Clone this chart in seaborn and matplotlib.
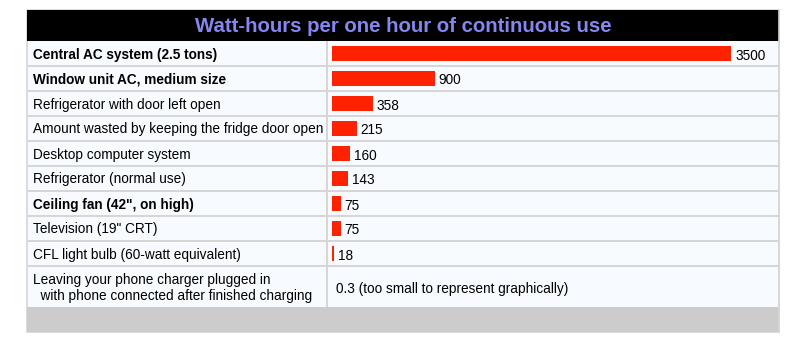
import matplotlib
matplotlib.use("Agg")
import matplotlib.pyplot as plt
import matplotlib.transforms as mtransforms
from matplotlib.patches import Rectangle
import seaborn as sns
import pandas as pd

# Data
title = "Watt-hours per one hour of continuous use"
appliances = [
    "Central AC system (2.5 tons)",
    "Window unit AC, medium size",
    "Refrigerator with door left open",
    "Amount wasted by keeping the fridge door open",
    "Desktop computer system",
    "Refrigerator (normal use)",
    "Ceiling fan (42\", on high)",
    "Television (19\" CRT)",
    "CFL light bulb (60-watt equivalent)",
]
watt_hours = [3500, 900, 358, 215, 160, 143, 75, 75, 18]
bold_rows = [True, True, False, False, False, False, True, False, False]
charger_label = "Leaving your phone charger plugged in\n  with phone connected after finished charging"
charger_value = 0.3
charger_note = "(too small to represent graphically)"

sns.set_theme(style="white")
plt.rcParams["font.family"] = ["Liberation Sans", "DejaVu Sans"]

W, H = 800, 342
fig = plt.figure(figsize=(W / 100, H / 100), dpi=100)
fig.patch.set_facecolor("white")

# Table frame drawn in pixel coordinates
bg = fig.add_axes([0, 0, 1, 1])
bg.set_xlim(0, W)
bg.set_ylim(H, 0)
bg.axis("off")

left, right = 27, 779
top, head_bot = 10, 41
row_h = 25
rows_bot = head_bot + row_h * len(appliances)
last_bot = 307
table_bot = 332
divider = 327
grid_col = "#D6D6D6"
cell_col = "#F7FAFE"
bar_col = "#FF2200"
fs = 9.8

bg.add_patch(Rectangle((left, top), right - left, table_bot - top,
                       facecolor=cell_col, edgecolor=grid_col, lw=1.2))
bg.add_patch(Rectangle((left, top), right - left, head_bot - top,
                       facecolor="black", edgecolor="none"))
bg.add_patch(Rectangle((left, last_bot), right - left, table_bot - last_bot,
                       facecolor="#CCCCCC", edgecolor="none"))
for i in range(1, len(appliances) + 1):
    y = head_bot + i * row_h
    bg.plot([left, right], [y, y], color=grid_col, lw=1.4, solid_capstyle="butt")
bg.plot([divider, divider], [head_bot, last_bot], color=grid_col, lw=1.4,
        solid_capstyle="butt")
bg.plot([right, right], [top, table_bot], color=grid_col, lw=1.2)

bg.text((left + right) / 2, (top + head_bot) / 2 + 1, title, ha="center",
        va="center", fontsize=14.7, fontweight="bold", color="#8686F0")

# Bar column
ax = fig.add_axes([divider / W, 1 - rows_bot / H, (right - divider) / W,
                   (rows_bot - head_bot) / H])
df = pd.DataFrame({"appliance": appliances, "wh": watt_hours})
sns.barplot(data=df, x="wh", y="appliance", orient="h", color=bar_col,
            saturation=1, width=0.57, linewidth=0, edgecolor=bar_col, ax=ax)
px_per_unit = (731 - 332) / 3500
ax.set_xlim(-(332 - divider) / px_per_unit, (right - 332) / px_per_unit)
ax.set_ylim(len(appliances) - 0.5, -0.5)
ax.set_facecolor("none")
ax.patch.set_alpha(0)
for s in ax.spines.values():
    s.set_visible(False)
ax.set_xticks([])
ax.set_yticks([])
ax.set_xlabel("")
ax.set_ylabel("")

# Value labels next to each bar (baseline a little below the bar centre)
for i, v in enumerate(watt_hours):
    ax.annotate(f"{v:g}", xy=(v, i - 0.5 + 18.5 / row_h), xytext=(3, 0),
                textcoords="offset points", ha="left", va="baseline",
                fontsize=fs, color="black")

# Row labels
tr = mtransforms.blended_transform_factory(bg.transData, ax.transData)
for i, (name, b) in enumerate(zip(appliances, bold_rows)):
    bg.text(33, i - 0.5 + 17.5 / row_h, name, transform=tr, ha="left",
            va="baseline", fontsize=fs, fontweight="bold" if b else "normal",
            color="black")

for k, line in enumerate(charger_label.split("\n")):
    bg.text(33, 284 + 16 * k, line, ha="left", va="baseline", fontsize=fs,
            color="black")
bg.text(336, 292.5, f"{charger_value:g} {charger_note}", ha="left",
        va="baseline", fontsize=fs, color="black")

fig.savefig("out.png", dpi=100, facecolor="white")
